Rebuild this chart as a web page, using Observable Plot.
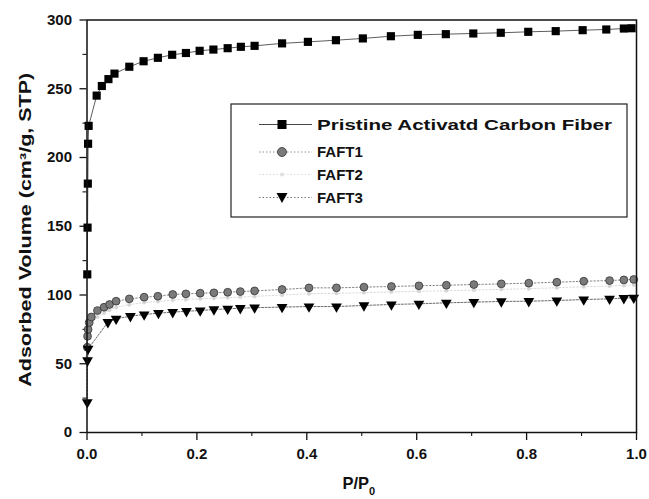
<!DOCTYPE html>
<html>
<head>
<meta charset="utf-8">
<script src="https://cdn.jsdelivr.net/npm/d3@7"></script>
<script src="https://cdn.jsdelivr.net/npm/@observablehq/plot@0.6"></script>
<style>
  html, body { margin: 0; padding: 0; background: #fff; }
  #chart { position: relative; width: 649px; height: 499px; }
  #chart svg { display: block; }
</style>
</head>
<body>
<div id="chart"></div>
<script>
// ---- data ----
const pristineX = [0.0005, 0.001, 0.0015, 0.002, 0.003, 0.0176, 0.027, 0.039, 0.050, 0.077, 0.103, 0.129, 0.155, 0.180, 0.205, 0.230, 0.256, 0.280, 0.305, 0.355, 0.402, 0.453, 0.502, 0.553, 0.602, 0.653, 0.703, 0.753, 0.803, 0.853, 0.902, 0.945, 0.977, 0.991];
const pristineY = [115, 149, 181, 210, 223, 245, 252, 257, 261, 266, 270, 272.5, 274.7, 276, 277.6, 278.5, 279.5, 280.5, 281.2, 283, 284.1, 285.3, 286.6, 288.2, 289.2, 289.7, 290.2, 290.7, 291.4, 291.9, 292.6, 293.1, 293.8, 294];

const faft1X = [0.0005, 0.001, 0.002, 0.004, 0.008, 0.019, 0.031, 0.041, 0.053, 0.077, 0.104, 0.129, 0.156, 0.180, 0.206, 0.231, 0.256, 0.279, 0.305, 0.355, 0.404, 0.454, 0.504, 0.554, 0.604, 0.654, 0.704, 0.754, 0.804, 0.855, 0.904, 0.951, 0.977, 0.995];
const faft1Y = [62, 70, 75, 80, 84, 88.7, 91.1, 93.1, 95.5, 97.2, 98.4, 99.1, 100.4, 100.8, 101.3, 101.6, 102.0, 102.5, 103, 104, 105.2, 105.2, 105.7, 106.2, 106.7, 107.1, 107.6, 108.1, 108.6, 109.3, 110.0, 110.5, 111.0, 111.3];

const faft2X = [0.0005, 0.001, 0.002, 0.004, 0.008, 0.019, 0.031, 0.041, 0.053, 0.077, 0.104, 0.129, 0.156, 0.180, 0.206, 0.231, 0.256, 0.279, 0.305, 0.355, 0.404, 0.454, 0.504, 0.554, 0.604, 0.654, 0.704, 0.754, 0.804, 0.855, 0.904, 0.951, 0.977, 0.995];
const faft2Y = [55, 63, 69, 74, 79, 84, 87, 89, 91, 93, 94.5, 95.3, 96.3, 96.8, 97.3, 97.7, 98.1, 98.5, 99, 100, 101, 101.2, 101.7, 102.2, 102.7, 103.1, 103.6, 104.1, 104.6, 105.3, 106.0, 106.5, 107.0, 107.3];

const faft3X = [0.0005, 0.001, 0.002, 0.038, 0.053, 0.079, 0.104, 0.130, 0.156, 0.181, 0.206, 0.231, 0.256, 0.279, 0.305, 0.355, 0.404, 0.454, 0.504, 0.554, 0.604, 0.654, 0.704, 0.754, 0.804, 0.855, 0.904, 0.951, 0.977, 0.995];
const faft3Y = [22, 52.4, 60.8, 80.2, 82.7, 84.6, 85.8, 86.8, 87.5, 88.2, 88.7, 89.5, 89.9, 90.4, 90.8, 91.2, 91.6, 91.6, 92.4, 93.1, 93.6, 94.3, 94.8, 95.3, 95.5, 96.0, 96.7, 97.2, 97.7, 98.0];

const seriesNames = ["Pristine Activatd Carbon Fiber", "FAFT1", "FAFT2", "FAFT3"];
const xMajorTicks = [0, 0.2, 0.4, 0.6, 0.8, 1.0];
const xMinorTicks = [0.1, 0.3, 0.5, 0.7, 0.9];
const yMajorTicks = [0, 50, 100, 150, 200, 250, 300];
const yMinorTicks = [25, 75, 125, 175, 225, 275];
const xTitleMain = "P/P";
const xTitleSub = "0";
const yTitle = "Adsorbed Volume (cm³/g, STP)";

// ---- build tables ----
const toRows = (xs, ys) => xs.map((x, i) => ({x, y: ys[i]}));
const pristine = toRows(pristineX, pristineY);
const faft1 = toRows(faft1X, faft1Y);
const faft2 = toRows(faft2X, faft2Y);
const faft3 = toRows(faft3X, faft3Y);

const FONT = "'Liberation Sans', Arial, Helvetica, sans-serif";

const chart = Plot.plot({
  width: 649,
  height: 499,
  marginLeft: 86.5,
  marginRight: 13,
  marginTop: 19.5,
  marginBottom: 67,
  style: {fontFamily: FONT, fontWeight: "bold", color: "#111", background: "#fff"},
  x: {domain: [0, 1]},
  y: {domain: [0, 300]},
  marks: [
    // axes
    Plot.axisY({ticks: yMajorTicks, tickSize: 7, tickPadding: 8, fontSize: 15, tickFormat: d => String(d), label: null, strokeWidth: 1.3}),
    Plot.axisY({ticks: yMinorTicks, tickSize: 4, tickFormat: () => "", label: null, strokeWidth: 1.1}),
    Plot.axisX({ticks: xMajorTicks, tickSize: 8, tickPadding: 8, fontSize: 15, tickFormat: d3.format(".1f"), label: null, strokeWidth: 1.3}),
    Plot.axisX({ticks: xMinorTicks, tickSize: 4, tickFormat: () => "", label: null, strokeWidth: 1.1}),
    Plot.text([yTitle], {frameAnchor: "left", textAnchor: "middle", rotate: -90, dx: -61, dy: 3.5, fontSize: 16.5, fontWeight: "bold", fill: "#111"}),
    Plot.text([xTitleMain], {frameAnchor: "bottom", textAnchor: "middle", dy: 56, dx: -3, fontSize: 16.5, fontWeight: "bold", fill: "#111"}),

    // series lines
    Plot.line(faft2, {x: "x", y: "y", stroke: "#cfcfcf", strokeWidth: 0.8, strokeDasharray: "1.5,2"}),
    Plot.line(faft1, {x: "x", y: "y", stroke: "#666", strokeWidth: 0.8, strokeDasharray: "1.5,2"}),
    Plot.line(faft3, {x: "x", y: "y", stroke: "#444", strokeWidth: 0.8, strokeDasharray: "2,1.5"}),
    Plot.line(pristine, {x: "x", y: "y", stroke: "#333", strokeWidth: 0.8}),

    // markers
    Plot.dot(faft2, {x: "x", y: "y", r: 2, symbol: "circle", fill: "#d6d6d6", stroke: "none"}),
    Plot.dot(faft1, {x: "x", y: "y", r: 3.9, symbol: "circle", fill: "#7a7a7a", stroke: "#333", strokeWidth: 0.8}),
    Plot.dot(faft3, {x: "x", y: "y", r: 4, symbol: "triangle", rotate: 180, fill: "#000", stroke: "none"}),
    Plot.dot(pristine, {x: "x", y: "y", r: 4.6, symbol: "square", fill: "#000", stroke: "none"}),

    Plot.frame({stroke: "#111", strokeWidth: 1.5})
  ]
});

const host = document.getElementById("chart");
host.appendChild(chart);

// stretch the wide axis title like the original, add real subscript to P/P0
d3.select(chart).selectAll("text").each(function () {
  if (this.textContent === yTitle) {
    this.setAttribute("textLength", 314);
    this.setAttribute("lengthAdjust", "spacingAndGlyphs");
  } else if (this.textContent === xTitleMain) {
    d3.select(this).append("tspan").attr("font-size", 11).attr("dy", 6).text(xTitleSub);
  }
});

// ---- legend (inside plot area, drawn as an overlay) ----
const leg = d3.select(host).append("svg")
  .attr("width", 649).attr("height", 499)
  .style("position", "absolute").style("left", "0px").style("top", "0px")
  .style("pointer-events", "none");

leg.append("rect")
  .attr("x", 231).attr("y", 104).attr("width", 396).attr("height", 113)
  .attr("fill", "#fff").attr("stroke", "#222").attr("stroke-width", 1.2);

const rowBase = [129.5, 157, 179.5, 202.5];
const styles = [
  {stroke: "#333", dash: null, sym: "square"},
  {stroke: "#888", dash: "1.5,2", sym: "circle"},
  {stroke: "#d8d8d8", dash: "1.5,2", sym: "faint"},
  {stroke: "#666", dash: "1.5,2", sym: "tri"}
];
seriesNames.forEach((name, i) => {
  const cy = rowBase[i] - 5;
  const s = styles[i];
  leg.append("line").attr("x1", 259).attr("x2", 312).attr("y1", cy).attr("y2", cy)
    .attr("stroke", s.stroke).attr("stroke-width", 0.9)
    .attr("stroke-dasharray", s.dash);
  if (s.sym === "square") {
    leg.append("rect").attr("x", 282 - 4.5).attr("y", cy - 4.5).attr("width", 9).attr("height", 9).attr("fill", "#000");
  } else if (s.sym === "circle") {
    leg.append("circle").attr("cx", 282).attr("cy", cy).attr("r", 4.5).attr("fill", "#7a7a7a").attr("stroke", "#333").attr("stroke-width", 0.8);
  } else if (s.sym === "faint") {
    leg.append("circle").attr("cx", 282).attr("cy", cy).attr("r", 2).attr("fill", "#e0e0e0");
  } else {
    leg.append("path").attr("d", `M${282 - 5.5},${cy - 4.5}L${282 + 5.5},${cy - 4.5}L282,${cy + 5.5}Z`).attr("fill", "#000");
  }
  const t = leg.append("text").attr("x", 317).attr("y", rowBase[i])
    .attr("font-family", FONT).attr("font-weight", "bold").attr("font-size", 15)
    .attr("fill", "#111").text(name);
  if (i === 0) t.attr("textLength", 295).attr("lengthAdjust", "spacingAndGlyphs");
});
</script>
</body>
</html>
